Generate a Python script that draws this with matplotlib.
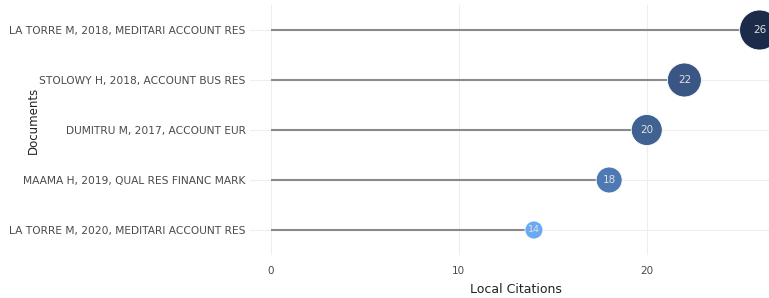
import matplotlib
matplotlib.use("Agg")
import matplotlib.pyplot as plt

# documents, bottom to top
documents = [
    "LA TORRE M, 2020, MEDITARI ACCOUNT RES",
    "MAAMA H, 2019, QUAL RES FINANC MARK",
    "DUMITRU M, 2017, ACCOUNT EUR",
    "STOLOWY H, 2018, ACCOUNT BUS RES",
    "LA TORRE M, 2018, MEDITARI ACCOUNT RES",
]
citations = [14, 18, 20, 22, 26]
colors = ["#6aaaf5", "#4f79b4", "#3f6293", "#3a5685", "#1c2b4a"]
diameters_px = [18, 26, 31, 34, 40]

fig = plt.figure(figsize=(7.69, 2.98), dpi=100)
ax = fig.add_axes([250 / 769, 1 - 255 / 298, 519 / 769, 250 / 298])

ypos = list(range(len(documents)))

# stems
ax.hlines(ypos, 0, citations, color="#8a8a8a", linewidth=1.5, zorder=2)

# circles
sizes = [(d * 0.72) ** 2 for d in diameters_px]
ax.scatter(citations, ypos, s=sizes, c=colors, edgecolors="white",
           linewidths=0.6, zorder=3, clip_on=False)
for x, y, d in zip(citations, ypos, diameters_px):
    ax.text(x, y, str(x), ha="center", va="center", color="#e0e0e0",
            fontsize=6.8 if d < 25 else 7.5, zorder=4)

ax.set_xlim(-1.1, 26.5)
ax.set_ylim(-0.5, 4.5)
ax.set_xticks([0, 10, 20])
ax.set_yticks(ypos)
ax.set_yticklabels(documents)
ax.grid(True, color="#eeeeee", linewidth=0.8, zorder=0)
ax.set_axisbelow(True)
for s in ax.spines.values():
    s.set_visible(False)
ax.tick_params(axis="both", length=0, labelcolor="#4a4a4a")
ax.tick_params(axis="x", pad=8, labelsize=7.5)
ax.tick_params(axis="y", pad=3, labelsize=7.7)

fig.text(33 / 769, 1 - 120 / 298, "Documents", rotation=90, ha="center",
         va="center", fontsize=8.5, color="#222222")
fig.text(516 / 769, 2 / 298, "Local Citations", ha="center",
         va="bottom", fontsize=9, color="#222222")

fig.savefig("out.png", dpi=100)
